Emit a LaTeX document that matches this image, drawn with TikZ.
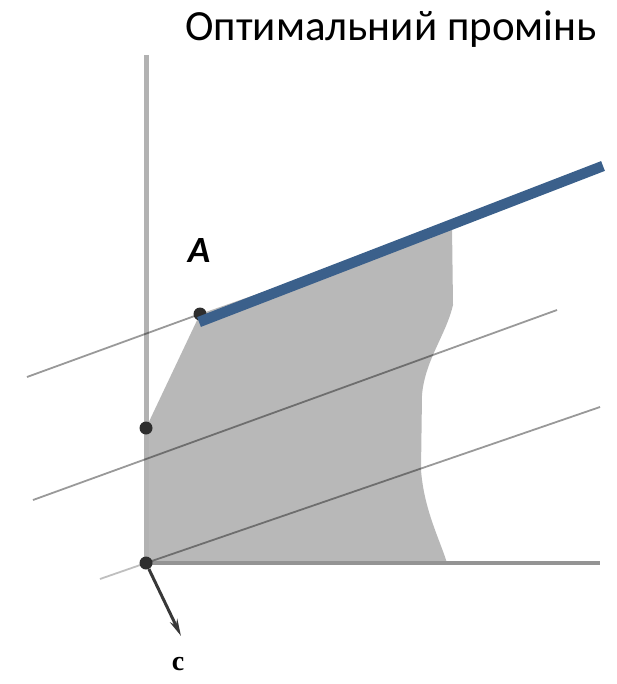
\documentclass[tikz,border=0pt]{standalone}
\usepackage{fontspec}
\setmainfont{Carlito}
\newfontfamily\cfont{Liberation Serif}
\usetikzlibrary{arrows.meta}
\definecolor{raycolor}{RGB}{59,96,139}

\begin{document}
\begin{tikzpicture}[x=1pt, y=-1pt, >=Stealth,
    level/.style={draw=black, opacity=0.4, line width=1.8pt},
    dot/.style={circle, fill=black!82, inner sep=0pt, minimum size=13pt}]
\useasboundingbox (0,0) rectangle (616,684);
\coordinate (O) at (146,563);
\coordinate (B) at (146,428);
\coordinate (A) at (200,314);

% Feasible region
\fill [black!28] (O) -- (B) -- (A) -- (452,226) -- (453,305)
    .. controls (446,335) and (425,360) .. (422,395) -- (421,470)
    .. controls (424,510) and (440,540) .. (447,563) -- cycle;

% Axes
\draw [black!30, line width=5pt] (146,55) -- (146,565);
\draw [black!42, line width=4pt] (140,563) -- (600,563);

% Level lines
\draw [level] (27,377) -- (A);
\draw [level] (33,500) -- (557,310);
\draw [black!25, line width=1.8pt] (100,579) -- (O);
\draw [level] (O) -- (600,407);

% Points
\node [dot] (o) at (O) {};
\node [dot] (b) at (B) {};
\node [dot] (a) at (A) {};

% Optimal ray
\coordinate (rayend) at (603,166);
\draw [raycolor, line width=10.5pt] (199,322) -- (rayend);
\node [font=\fontsize{37}{40}\selectfont\bfseries\itshape] (labA) at (199,251) {A};

% Gradient direction
\coordinate (cend) at (181,636);
\draw [-{Stealth[length=17pt,width=8pt]}, black!78, line width=3pt] (o) -- (cend);
\node [font=\cfont\bfseries\fontsize{28}{30}\selectfont] (labc) at (178,664) {c};

\node [font=\fontsize{43}{46}\selectfont] (title) at (391,29) {Оптимальний промінь};
\end{tikzpicture}
\end{document}
